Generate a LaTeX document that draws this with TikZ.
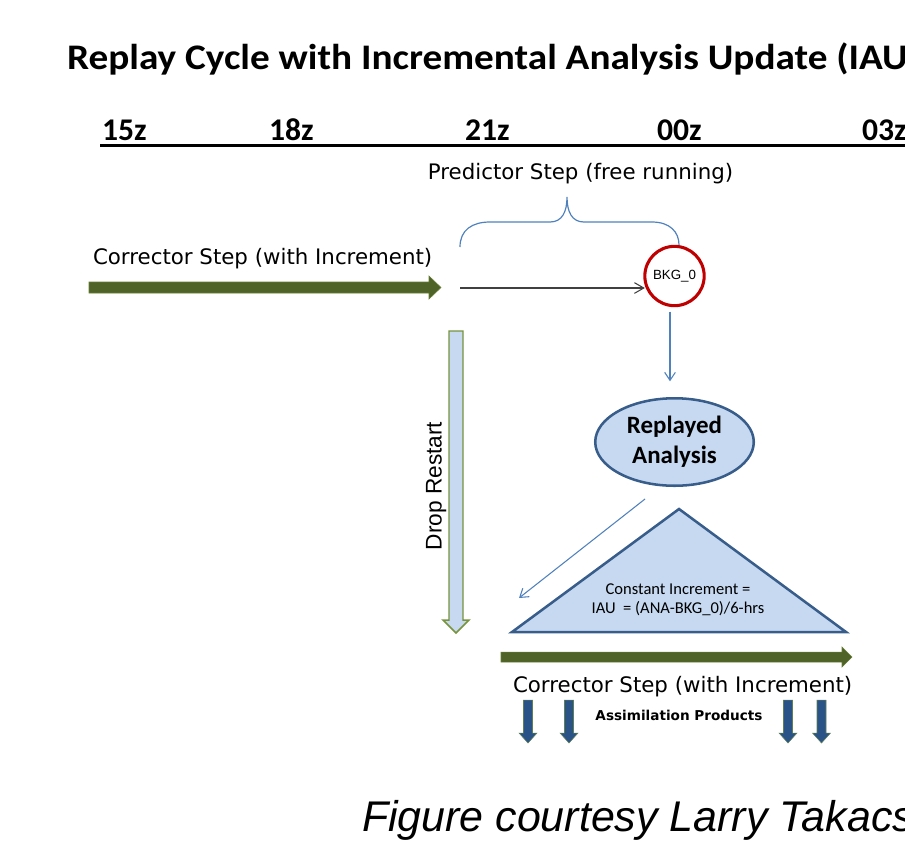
\documentclass[tikz,border=0pt]{standalone}
\usepackage{fontspec}
\setmainfont{Carlito}
\newfontfamily\comicf{DejaVu Sans}
\newfontfamily\arialf{Liberation Sans}
\usetikzlibrary{arrows.meta,shapes.geometric,calc}
\definecolor{grn}{HTML}{4F6228}
\definecolor{grnedge}{HTML}{77933C}
\definecolor{lfill}{HTML}{C6D9F1}
\definecolor{dblue}{HTML}{385D8A}
\definecolor{lblue}{HTML}{4F81BD}
\definecolor{bkgred}{HTML}{C00000}
\definecolor{navy}{HTML}{2A5388}
\tikzset{
  every node/.style={inner sep=0pt, outer sep=0pt},
  titletext/.style={font=\bfseries\fontsize{27pt}{32pt}\selectfont, anchor=base west},
  timetext/.style={font=\bfseries\fontsize{23.7pt}{28pt}\selectfont, anchor=base west},
  comictext/.style={font=\comicf\fontsize{16pt}{19pt}\selectfont, anchor=base west},
  prodtext/.style={font=\comicf\bfseries\fontsize{10.2pt}{12pt}\selectfont, anchor=center},
  smalltext/.style={font=\fontsize{12.4pt}{15pt}\selectfont, anchor=center},
  thinblue/.style={draw=lblue, line width=0.9pt},
  bluearrow/.style={draw=lblue, line width=0.8pt, -{Straight Barb[length=6pt,width=8pt]}},
  blackarrow/.style={draw=black!75, line width=0.8pt, -{Straight Barb[length=7pt,width=8pt]}},
  greenarrow/.style={fill=grn, draw=grnedge!60!grn, line width=0.4pt},
  droparrow/.style={fill=lfill, draw=grnedge, line width=1.1pt},
  lightshape/.style={fill=lfill, draw=dblue, line width=1.9pt},
  downarr/.pic={\filldraw[fill=navy, draw=grnedge!70!navy, line width=0.4pt]
     (-4.5,0) -- (4.5,0) -- (4.5,33) -- (9,33) -- (0,43) -- (-9,33) -- (-4.5,33) -- cycle;}
}
\begin{document}
\begin{tikzpicture}[x=0.75pt,y=-0.75pt]
\useasboundingbox (0,0) rectangle (905,844);
\clip (0,0) rectangle (905,844);
% title
\node[titletext] (title) at (67,69) {\scalebox{1.09}[1]{Replay Cycle with Incremental Analysis Update (IAU)}};
% time axis
\node[timetext] (t15) at (102,140) {15z};
\node[timetext] (t18) at (269,140) {18z};
\node[timetext] (t21) at (465,140) {21z};
\node[timetext] (t00) at (657,140) {00z};
\node[timetext] (t03) at (862,140) {03z};
\draw[line width=2.3pt] (100,145.5) -- (910,145.5);
% predictor
\node[font=\comicf\fontsize{16pt}{19pt}\selectfont, anchor=base] (pred) at (580.5,179) {Predictor Step (free running)};
\draw[thinblue] (460,247) .. controls (460,230) and (472,222) .. (490,222) -- (550,222)
  .. controls (562,222) and (567,212) .. (567,197)
  .. controls (567,212) and (572,222) .. (584,222) -- (652,222)
  .. controls (670,222) and (679,232) .. (679,245);
% top corrector
\node[comictext] (corr1) at (93,264) {Corrector Step (with Increment)};
\filldraw[greenarrow] (89,282) -- (429,282) -- (429,276) -- (441,287.5) -- (429,299) -- (429,293) -- (89,293) -- cycle;
% BKG circle
\node[circle, draw=bkgred, line width=2.3pt, minimum size=44.5pt, font=\arialf\fontsize{10pt}{12pt}\selectfont] (bkg) at (674.5,276) {BKG\_0};
\coordinate (p0) at (460,288);
\draw[blackarrow] (p0) -- (p0 -| bkg.west);
% replayed analysis
\node[ellipse, lightshape, minimum width=118.9pt, minimum height=65.6pt, align=center,
      font=\bfseries\fontsize{18.7pt}{22.5pt}\selectfont] (ra) at (674.5,442) {Replayed\\Analysis};
\draw[bluearrow] ($(bkg.south)+(-4.5,6)$) -- ($(ra.north)+(-4.5,-17)$);
% drop restart
\filldraw[droparrow] (449,331) -- (463,331) -- (463,620) -- (469,620) -- (456,633) -- (443,620) -- (449,620) -- cycle;
\node[font=\arialf\fontsize{17pt}{20pt}\selectfont, rotate=90, anchor=base] (drop) at (441.5,486) {Drop Restart};
% triangle
\filldraw[lightshape, line join=miter] (679,509) -- (846,632) -- (512,632) -- cycle;
\node[smalltext] (ci1) at (678,589) {Constant Increment =};
\node[smalltext] (ci2) at (678,609) {IAU\ \ = (ANA-BKG\_0)/6-hrs};
\coordinate (dg0) at (645,499);
\coordinate (dg1) at (519,598);
\draw[bluearrow] (dg0) -- (dg1);
% bottom corrector
\filldraw[greenarrow] (501,652) -- (842,652) -- (842,647) -- (852,657) -- (842,667) -- (842,662) -- (501,662) -- cycle;
\node[comictext] (corr2) at (513,692) {Corrector Step (with Increment)};
\node[prodtext] (prod) at (679,715) {Assimilation Products};
\pic at (528,700) {downarr};
\pic at (569,700) {downarr};
\pic at (788,700) {downarr};
\pic at (821.5,700) {downarr};
% credit
\node[font=\arialf\itshape\fontsize{32.2pt}{36pt}\selectfont, anchor=base west] (credit) at (362,831) {Figure courtesy Larry Takacs};
\end{tikzpicture}
\end{document}
